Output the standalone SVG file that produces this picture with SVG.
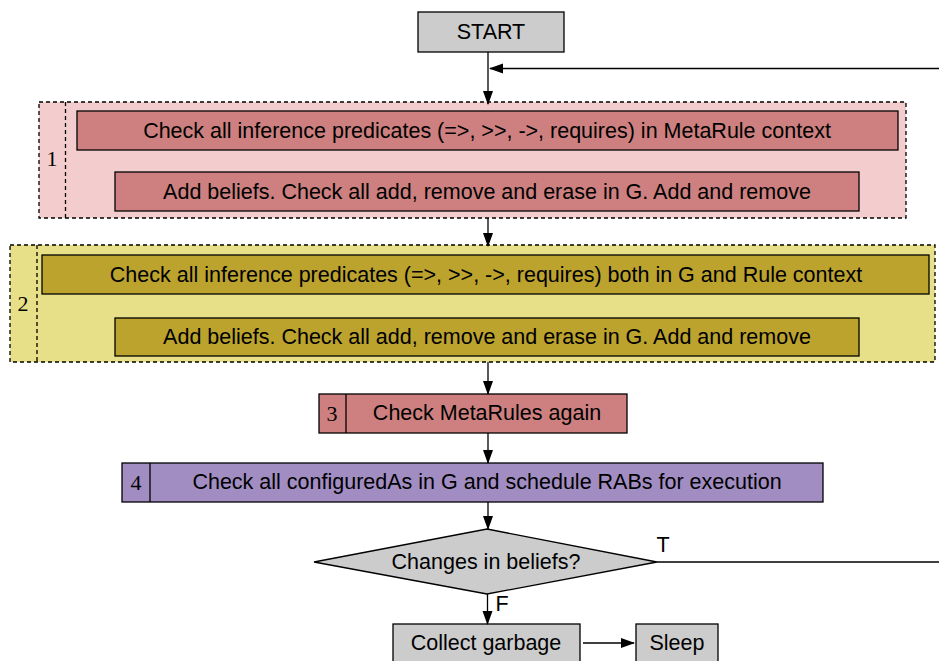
<svg xmlns="http://www.w3.org/2000/svg" width="939" height="661" viewBox="0 0 939 661">
  <style>
    .lbl { font-family: "Liberation Sans", Arial, sans-serif; font-size: 21.5px; fill: #000; text-anchor: middle; dominant-baseline: central; }
    .num { font-family: "Liberation Serif", "Times New Roman", serif; font-size: 22px; fill: #000; text-anchor: middle; dominant-baseline: central; }
    .box { stroke: #000; stroke-width: 1.3; }
    .grey { fill: #cccccc; }
    .red { fill: #cd807f; }
    .olive { fill: #bba32e; }
    .purple { fill: #a28dc3; }
    .frame { stroke: #000; stroke-width: 1.3; stroke-dasharray: 4 3; }
    .edge { stroke: #000; stroke-width: 1.3; fill: none; }
  </style>
  <defs>
    <marker id="arrow" viewBox="0 0 14 11" refX="13" refY="5.5" markerWidth="14" markerHeight="11" markerUnits="userSpaceOnUse" orient="auto">
      <path d="M0,0.5 L14,5.5 L0,10.5 Z" fill="#000"/>
    </marker>
  </defs>

  <rect width="939" height="661" fill="#ffffff"/>

  <g id="start">
    <rect class="box grey" x="418" y="12" width="146" height="40"/>
    <text class="lbl" x="491" y="32">START</text>
  </g>

  <g id="stage1">
    <rect class="frame" x="39" y="102" width="867" height="116" fill="#f3cdcd"/>
    <line class="frame" x1="65.5" y1="102" x2="65.5" y2="218"/>
    <text class="num" x="52" y="158">1</text>
    <g id="stage1-infer">
      <rect class="box red" x="77" y="111" width="821" height="39"/>
      <text class="lbl" x="487" y="131">Check all inference predicates (=&gt;, &gt;&gt;, -&gt;, requires) in MetaRule context</text>
    </g>
    <g id="stage1-beliefs">
      <rect class="box red" x="115" y="172" width="744" height="39"/>
      <text class="lbl" x="487" y="192">Add beliefs. Check all add, remove and erase in G. Add and remove</text>
    </g>
  </g>

  <g id="stage2">
    <rect class="frame" x="10" y="245" width="925" height="117" fill="#e8e088"/>
    <line class="frame" x1="37" y1="245" x2="37" y2="362"/>
    <text class="num" x="23" y="303">2</text>
    <g id="stage2-infer">
      <rect class="box olive" x="42" y="255" width="887" height="39"/>
      <text class="lbl" x="486" y="275">Check all inference predicates (=&gt;, &gt;&gt;, -&gt;, requires) both in G and Rule context</text>
    </g>
    <g id="stage2-beliefs">
      <rect class="box olive" x="115" y="318" width="744" height="38"/>
      <text class="lbl" x="487" y="337">Add beliefs. Check all add, remove and erase in G. Add and remove</text>
    </g>
  </g>

  <g id="stage3">
    <rect class="box red" x="319" y="394" width="308" height="39"/>
    <line class="box" x1="346" y1="394" x2="346" y2="433"/>
    <text class="num" x="332" y="413">3</text>
    <text class="lbl" x="487" y="413">Check MetaRules again</text>
  </g>

  <g id="stage4">
    <rect class="box purple" x="122" y="463" width="701" height="39"/>
    <line class="box" x1="150" y1="463" x2="150" y2="502"/>
    <text class="num" x="136" y="482">4</text>
    <text class="lbl" x="487" y="482">Check all configuredAs in G and schedule RABs for execution</text>
  </g>

  <g id="decision">
    <polygon class="box grey" points="487,529 657,562 487,594 314,562"/>
    <text class="lbl" x="486" y="562">Changes in beliefs?</text>
  </g>

  <g id="collect">
    <rect class="box grey" x="393" y="624" width="187" height="40"/>
    <text class="lbl" x="486" y="643">Collect garbage</text>
  </g>

  <g id="sleep">
    <rect class="box grey" x="636" y="624" width="82" height="40"/>
    <text class="lbl" x="677" y="643">Sleep</text>
  </g>

  <g id="connectors">
    <line class="edge" x1="488" y1="52" x2="488" y2="104" marker-end="url(#arrow)"/>
    <line class="edge" x1="939" y1="68.5" x2="490" y2="68.5" marker-end="url(#arrow)"/>
    <line class="edge" x1="488" y1="218" x2="488" y2="246" marker-end="url(#arrow)"/>
    <line class="edge" x1="488" y1="362" x2="488" y2="394" marker-end="url(#arrow)"/>
    <line class="edge" x1="488" y1="433" x2="488" y2="463" marker-end="url(#arrow)"/>
    <line class="edge" x1="488" y1="502" x2="488" y2="529" marker-end="url(#arrow)"/>
    <line class="edge" x1="657" y1="562" x2="939" y2="562"/>
    <text class="lbl" x="663" y="545">T</text>
    <line class="edge" x1="487.5" y1="594" x2="487.5" y2="624" marker-end="url(#arrow)"/>
    <text class="lbl" x="502" y="604">F</text>
    <line class="edge" x1="583" y1="643" x2="634" y2="643" marker-end="url(#arrow)"/>
  </g>
</svg>
